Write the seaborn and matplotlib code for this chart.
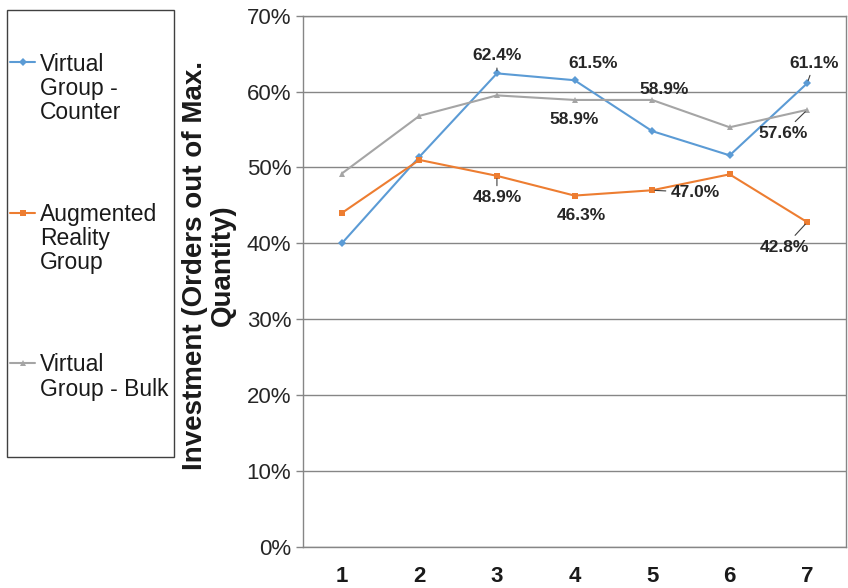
import matplotlib
matplotlib.use("Agg")
import matplotlib.pyplot as plt
import seaborn as sns
import pandas as pd
from matplotlib.ticker import PercentFormatter, MultipleLocator
from matplotlib.patches import Rectangle

# ---- data ----
trials = [1, 2, 3, 4, 5, 6, 7]
groups = ["Virtual\nGroup -\nCounter", "Augmented\nReality\nGroup", "Virtual\nGroup - Bulk"]
virtual_counter = [0.400, 0.514, 0.624, 0.615, 0.548, 0.516, 0.611]
augmented_reality = [0.440, 0.510, 0.489, 0.463, 0.470, 0.491, 0.428]
virtual_bulk = [0.492, 0.568, 0.595, 0.589, 0.589, 0.553, 0.576]
y_label = "Investment (Orders out of Max.\nQuantity)"

# which points carry a data label: (group index, trial index)
labelled = [(0, 2), (0, 3), (0, 6), (2, 3), (2, 4), (2, 6), (1, 2), (1, 3), (1, 4), (1, 6)]
# label placement (pixel offsets of text centre from point) and leader-line flag
label_style = [(0, 17.5, True), (19, 17, False), (7, 20, True),
               (0, -19.5, False), (12, 10.6, False), (-24, -23.5, True),
               (0, -22, True), (7, -20, False), (43, -2, True), (-23, -25, True)]

series = [virtual_counter, augmented_reality, virtual_bulk]
df = pd.DataFrame({
    "Trial": trials * 3,
    "Investment": virtual_counter + augmented_reality + virtual_bulk,
    "Group": [g for g in groups for _ in trials],
})

sns.set_theme(style="white")
plt.rcParams["font.family"] = ["Liberation Sans", "DejaVu Sans"]

colors = ["#5B9BD5", "#ED7D31", "#A5A5A5"]
fig = plt.figure(figsize=(8.48, 5.88), dpi=100)
ax = fig.add_axes([303 / 848, 1 - 547 / 588, (846 - 303) / 848, (547 - 15.7) / 588])

sns.lineplot(data=df, x="Trial", y="Investment", hue="Group", style="Group",
             hue_order=groups, style_order=groups, palette=colors,
             markers={groups[0]: "D", groups[1]: "s", groups[2]: "^"},
             dashes=False, linewidth=1.5, markersize=4.5, markeredgewidth=0,
             legend=False, ax=ax)

ax.set_xlim(0.5, 7.5)
ax.set_ylim(0, 0.70)
ax.yaxis.set_major_locator(MultipleLocator(0.10))
ax.yaxis.set_major_formatter(PercentFormatter(1.0, decimals=0))
ax.set_xticks(trials)
ax.set_xticklabels([str(t) for t in trials], fontsize=16, fontweight="bold", color="#1a1a1a")
ax.tick_params(axis="y", labelsize=16, colors="#868686", labelcolor="#262626",
               length=5, width=1, direction="out", left=True)
ax.tick_params(axis="x", length=0, pad=14)
ax.grid(axis="y", color="#868686", linewidth=1)
ax.set_axisbelow(True)
for sp in ax.spines.values():
    sp.set_color("#868686")
    sp.set_linewidth(1)
ax.set_xlabel("")
ax.set_ylabel(y_label, fontsize=20, fontweight="bold", color="#1a1a1a", linespacing=1.1)
ax.yaxis.set_label_coords(-0.123, 0.53)

# data labels
for (gi, ti), (dx, dy, leader) in zip(labelled, label_style):
    val = series[gi][ti]
    kw = {}
    if leader:
        kw["arrowprops"] = dict(arrowstyle="-", color="#404040", lw=0.8,
                                shrinkA=1, shrinkB=2)
    ax.annotate(f"{val * 100:.1f}%", xy=(trials[ti], val), xytext=(dx, dy),
                textcoords="offset pixels", ha="center", va="center",
                fontsize=12.5, fontweight="bold", color="#262626", **kw)

# legend
leg = fig.legend(handles=ax.lines[:3], labels=groups, loc="upper left",
                 bbox_to_anchor=(10 / 848, 1 - 53 / 588), frameon=False,
                 fontsize=16.5, borderpad=0, borderaxespad=0, handlelength=1.1,
                 handletextpad=0.2, handleheight=1.1, labelspacing=3.45)
for t in leg.get_texts():
    t.set_linespacing(1.06)
    t.set_color("#1a1a1a")
for col in leg._legend_handle_box.get_children():
    for item in col.get_children():
        item.align = "top"
fig.patches.append(Rectangle((7 / 848, 1 - 457 / 588), 167 / 848, 447 / 588,
                             transform=fig.transFigure, fill=False,
                             edgecolor="#404040", linewidth=1))

fig.savefig("out.png", dpi=100)
